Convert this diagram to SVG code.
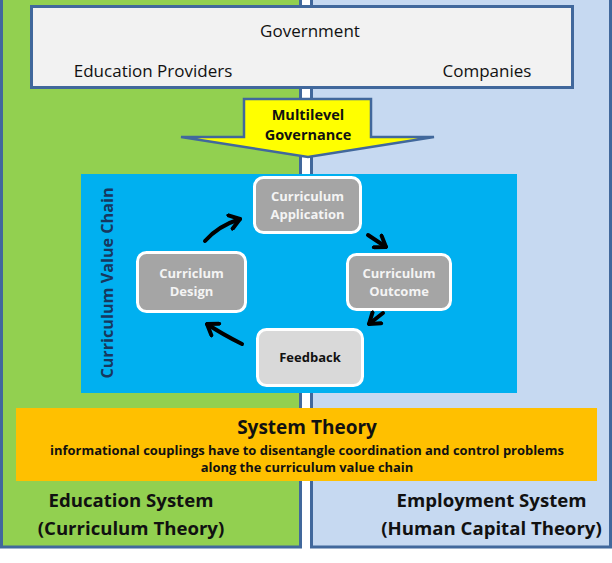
<svg xmlns="http://www.w3.org/2000/svg" width="612" height="563" viewBox="0 0 612 563">
<defs>
<style>
.t{font-family:"Open Sans","Noto Sans","Liberation Sans",sans-serif;fill:#111;}
.b{font-weight:bold;}
.panel{stroke:#41689C;stroke-width:3;}
.node{stroke:#fff;stroke-width:3;}
.wt{fill:#F4F4F4;font-weight:bold;font-size:13px;font-family:"Open Sans","Noto Sans","Liberation Sans",sans-serif;}
.arr{fill:none;stroke:#000;stroke-width:4;stroke-linecap:round;}
</style>
<marker id="head" viewBox="-12 -9 14 18" markerWidth="14" markerHeight="18" refX="0" refY="0" orient="auto" markerUnits="userSpaceOnUse">
<polyline points="-10,-7 0,0 -10,7" fill="none" stroke="#000" stroke-width="4" stroke-linecap="round" stroke-linejoin="round"/>
</marker>
</defs>
<rect width="612" height="563" fill="#fff"/>
<g id="education-panel">
<rect class="panel" x="1.5" y="-5" width="299" height="552" fill="#92D050"/>
<text class="t b" x="131" y="507" font-size="18.6" text-anchor="middle">Education System</text>
<text class="t b" x="131" y="535" font-size="18.6" text-anchor="middle">(Curriculum Theory)</text>
</g>
<g id="employment-panel">
<rect class="panel" x="311.5" y="-5" width="299" height="552" fill="#C6D9F1"/>
<text class="t b" x="491.5" y="507" font-size="18.6" text-anchor="middle">Employment System</text>
<text class="t b" x="491.5" y="535" font-size="18.6" text-anchor="middle">(Human Capital Theory)</text>
</g>
<g id="government">
<rect class="panel" x="31.5" y="6.5" width="541" height="81" fill="#F2F2F2"/>
<text class="t" x="310" y="37" font-size="17" text-anchor="middle">Government</text>
<text class="t" x="153" y="77" font-size="17" text-anchor="middle">Education Providers</text>
<text class="t" x="487" y="77" font-size="17" text-anchor="middle">Companies</text>
</g>
<g id="multilevel-governance">
<polygon points="244,99 371,99 371,137 434,137 308,157 181,137 244,137" fill="#FFFF00" stroke="#41689C" stroke-width="2.5" stroke-linejoin="miter"/>
<text class="t b" x="308" y="120" font-size="14.5" text-anchor="middle">Multilevel</text>
<text class="t b" x="308" y="140" font-size="14.5" text-anchor="middle">Governance</text>
</g>
<g id="value-chain">
<rect x="81" y="174" width="436" height="219" fill="#00B0F0"/>
<text class="t b" transform="translate(113,283) rotate(-90)" font-size="16.2" text-anchor="middle" style="fill:#17375E">Curriculum Value Chain</text>
</g>
<g id="curriculum-application">
<rect class="node" x="254.5" y="177.5" width="106" height="55" rx="9" fill="#A5A5A5"/>
<text class="wt" x="307.5" y="201" text-anchor="middle">Curriculum</text>
<text class="wt" x="307.5" y="219" text-anchor="middle">Application</text>
</g>
<g id="curriculum-outcome">
<rect class="node" x="347.5" y="254.5" width="103" height="55" rx="9" fill="#A5A5A5"/>
<text class="wt" x="399" y="278" text-anchor="middle">Curriculum</text>
<text class="wt" x="399" y="296" text-anchor="middle">Outcome</text>
</g>
<g id="feedback">
<rect class="node" x="257.5" y="329.5" width="105" height="56" rx="9" fill="#D9D9D9"/>
<text class="wt" x="310" y="362" text-anchor="middle" style="fill:#111">Feedback</text>
</g>
<g id="curriculum-design">
<rect class="node" x="137.5" y="252.5" width="108" height="59" rx="9" fill="#A5A5A5"/>
<text class="wt" x="191.5" y="278" text-anchor="middle">Curriclum</text>
<text class="wt" x="191.5" y="296" text-anchor="middle">Design</text>
</g>
<g id="connectors">
<path class="arr" d="M205,241 Q218,226 240,219" marker-end="url(#head)"/>
<path class="arr" d="M368,235 L386,247" marker-end="url(#head)"/>
<path class="arr" d="M383,313 L369,324" marker-end="url(#head)"/>
<path class="arr" d="M242,344 Q222,334 207,324" marker-end="url(#head)"/>
</g>
<g id="system-theory">
<rect x="16" y="408" width="581" height="73" fill="#FFC000"/>
<text class="t b" x="307" y="434" font-size="19" text-anchor="middle">System Theory</text>
<text class="t b" x="307" y="455" font-size="12.95" text-anchor="middle">informational couplings have to disentangle coordination and control problems</text>
<text class="t b" x="307" y="472" font-size="12.95" text-anchor="middle">along the curriculum value chain</text>
</g>
</svg>
